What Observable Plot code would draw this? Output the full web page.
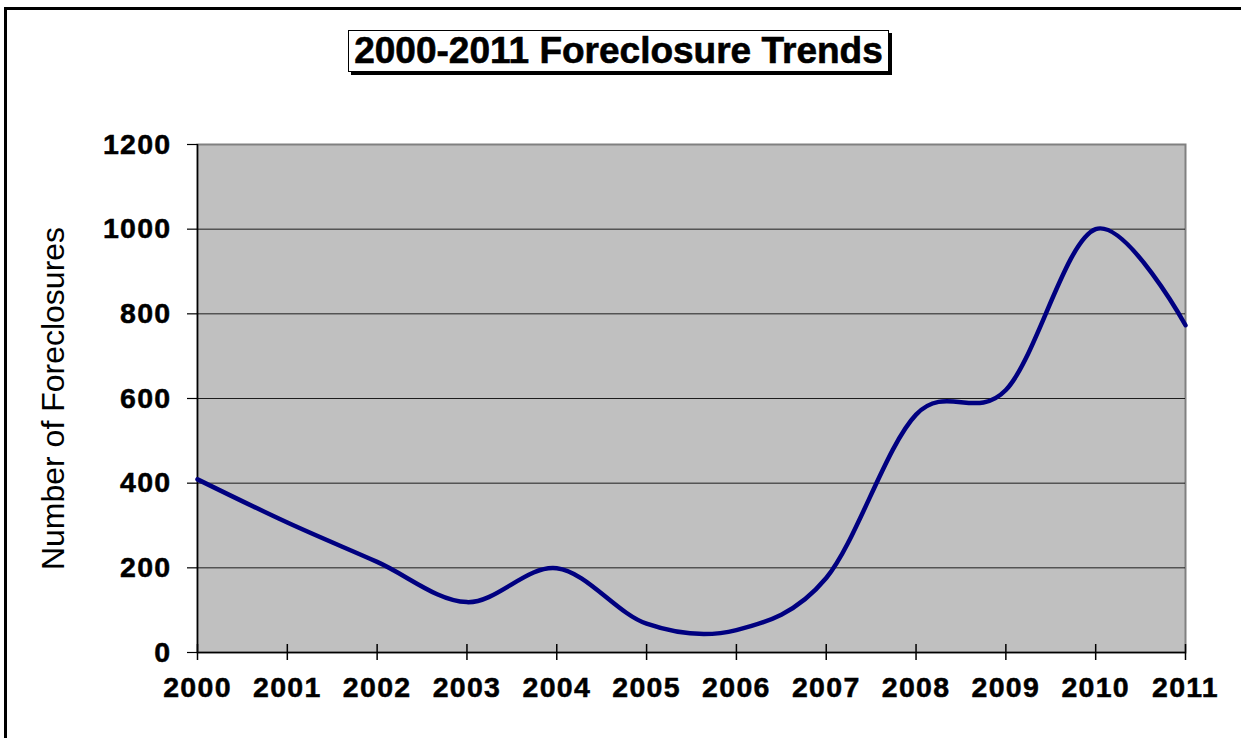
<!DOCTYPE html>
<html>
<head>
<meta charset="utf-8">
<script src="https://cdn.jsdelivr.net/npm/d3@7"></script>
<script src="https://cdn.jsdelivr.net/npm/@observablehq/plot@0.6"></script>
<style>
  html, body { margin: 0; padding: 0; background: #fff; }
  #wrap { position: relative; width: 1241px; height: 738px; overflow: hidden; background: #fff; }
  #border { position: absolute; left: 4px; top: 7px; width: 1300px; height: 800px;
            border-left: 3px solid #000; border-top: 3px solid #000; box-sizing: border-box; }
  #title { position: absolute; left: 348px; top: 30px; width: 541px; height: 42px; box-sizing: border-box;
           border: 1.5px solid #000; background: #fff; box-shadow: 3px 3px 0 #000;
           font-family: "Liberation Sans", Arial, sans-serif; font-weight: bold; font-size: 37px;
           line-height: 39px; text-align: center; color: #000; white-space: nowrap;
           -webkit-text-stroke: 0.6px #000; }
  #chart { position: absolute; left: 0; top: 0; }
  #chart g[aria-label="x-axis tick label"] text,
  #chart g[aria-label="y-axis tick label"] text { letter-spacing: 1.3px; stroke: #000; stroke-width: 0.5px; }
</style>
</head>
<body>
<div id="wrap">
  <div id="border"></div>
  <div id="chart"></div>
  <div id="title">2000-2011 Foreclosure Trends</div>
</div>
<script>
// Data
const years = [2000, 2001, 2002, 2003, 2004, 2005, 2006, 2007, 2008, 2009, 2010, 2011];
const foreclosures = [409, 307, 214, 119, 199, 68, 53, 176, 562, 620, 1000, 773];
const yTicks = [0, 200, 400, 600, 800, 1000, 1200];
const gridTicks = [200, 400, 600, 800, 1000];
const yLabel = "Number of Foreclosures";

const data = years.map((year, i) => ({year, count: foreclosures[i]}));

const chart = Plot.plot({
  width: 1241,
  height: 738,
  marginLeft: 197,
  marginRight: 56,
  marginTop: 144,
  marginBottom: 86,
  style: {
    fontFamily: "'Liberation Sans', Arial, sans-serif",
    fontSize: "28.5px",
    fontWeight: "bold",
    color: "#000",
    background: "transparent",
    overflow: "visible"
  },
  x: {domain: [years[0], years[years.length - 1]], type: "linear"},
  y: {domain: [yTicks[0], yTicks[yTicks.length - 1]]},
  marks: [
    Plot.frame({fill: "#C0C0C0", stroke: "#808080", strokeWidth: 2}),
    Plot.gridY(gridTicks, {stroke: "#000", strokeOpacity: 0.85, strokeWidth: 1}),
    Plot.ruleY([yTicks[0]], {stroke: "#000", strokeWidth: 1.5}),
    Plot.ruleX([years[0]], {stroke: "#000", strokeWidth: 1.5}),
    Plot.ruleX(years, {x: d => d, y1: () => yTicks[0], y2: () => yTicks[0], insetBottom: 8, stroke: "#000", strokeWidth: 1.5}),
    Plot.axisY({ticks: yTicks, tickSize: 10, tickPadding: 16, tickFormat: "d", label: null, strokeWidth: 1.2}),
    Plot.axisX({ticks: years, tickSize: 8, tickPadding: 16, tickFormat: "d", label: null, strokeWidth: 1.5}),
    Plot.text([yLabel], {frameAnchor: "left", rotate: -90, dx: -144, text: d => d,
      fontSize: 32, fontWeight: "normal", textAnchor: "middle", lineAnchor: "middle", fill: "#000"}),
    Plot.line(data, {x: "year", y: "count", curve: "cardinal", stroke: "#000080", strokeWidth: 4.5})
  ]
});
document.getElementById("chart").appendChild(chart);
</script>
</body>
</html>
